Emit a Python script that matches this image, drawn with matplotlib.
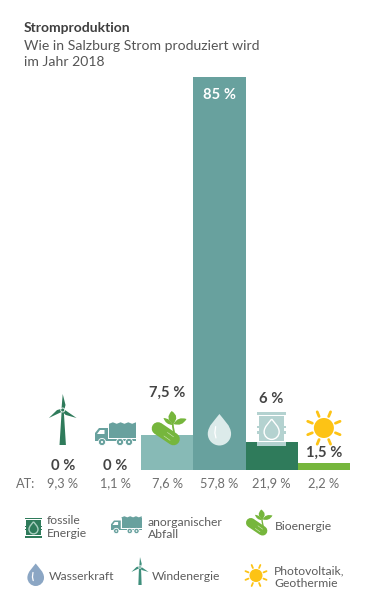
import numpy as np
import matplotlib
matplotlib.use("Agg")
import matplotlib.pyplot as plt
from matplotlib.patches import Polygon, Circle, Rectangle, PathPatch
from matplotlib.path import Path

categories = ["Windenergie", "anorganischer Abfall", "Bioenergie", "Wasserkraft", "fossile Energie", "Photovoltaik, Geothermie"]
shares = [0, 0, 7.5, 85, 6, 1.5]
share_labels = ["0 %", "0 %", "7,5 %", "85 %", "6 %", "1,5 %"]
at_labels = ["9,3 %", "1,1 %", "7,6 %", "57,8 %", "21,9 %", "2,2 %"]
bar_colors = ["#2F7B5B", "#68A19E", "#87BAB6", "#68A19E", "#2F7B5B", "#76B63C"]

GREY = "#6E6E6E"
plt.rcParams["font.family"] = ["Lato", "DejaVu Sans"]

W, H = 368, 600
fig = plt.figure(figsize=(W/100, H/100), dpi=100)

left, right, base, top = 36.6, 350.0, 470.0, 77.0
ax = fig.add_axes([left/W, 1-base/H, (right-left)/W, (base-top)/H])
ax.bar(range(6), shares, width=1.0, color=bar_colors, linewidth=0)
ax.set_xlim(-0.5, 5.5)
ax.set_ylim(0, 85)
ax.axis("off")

ov = fig.add_axes([0, 0, 1, 1], zorder=5)
ov.set_xlim(0, W); ov.set_ylim(H, 0); ov.axis("off")

def T(x, y, s, size=9.6, color=GREY, weight="normal", ha="left", va="center", **k):
    ov.text(x, y, s, fontsize=size, color=color, fontweight=weight, ha=ha, va=va, **k)

def poly(pts, c, **k):
    ov.add_patch(Polygon(pts, closed=True, fc=c, ec="none", **k))

def wind(cx, cy, s, c, tower):
    tw = 3.2*tower/35
    poly([(cx-1.0, cy), (cx+1.0, cy), (cx+tw, cy+tower), (cx-tw, cy+tower)], c)
    for a in (-90, 30, 150):
        r = np.radians(a)
        d = np.array([np.cos(r), np.sin(r)]); n = np.array([-d[1], d[0]])
        o = np.array([cx, cy])
        poly([o+n*1.5*s, o+d*5*s+n*2.8*s, o+d*16*s, o-n*1.3*s], c)
    ov.add_patch(Circle((cx, cy), 2.0*s, fc=c, ec="white", lw=0.6))

def truck(x, y, s, c):
    ov.add_patch(Rectangle((x+14*s, y+2*s), 27*s, 14*s, fc=c, ec="none"))
    xs = np.linspace(x+14*s, x+41*s, 8)
    poly([(x+14*s, y+3*s)] + [(v, y+(0.3 if i % 2 else 1.8)*s) for i, v in enumerate(xs)] + [(x+41*s, y+3*s)], c)
    poly([(x, y+18*s), (x, y+11*s), (x+4*s, y+6*s), (x+13*s, y+6*s), (x+13*s, y+18*s)], c)
    poly([(x+2*s, y+12*s), (x+5*s, y+8*s), (x+9.5*s, y+8*s), (x+9.5*s, y+12*s)], "white")
    ov.add_patch(Rectangle((x, y+17*s), 41*s, 2*s, fc=c, ec="none"))
    for wx in (7, 25, 34):
        ov.add_patch(Circle((x+wx*s, y+20*s), 3.6*s, fc=c, ec="white", lw=0.6))
        ov.add_patch(Circle((x+wx*s, y+20*s), 1.1*s, fc="white", ec="none"))

def drop_path(cx, ytop, ybot):
    r = (ybot-ytop)*0.37
    cy = ybot-r
    k = 0.55*r
    h = ybot-ytop
    verts = [(cx, ytop),
             (cx+0.35*r, ytop+0.18*h), (cx+r, cy-0.7*r), (cx+r, cy),
             (cx+r, cy+k), (cx+k, ybot), (cx, ybot),
             (cx-k, ybot), (cx-r, cy+k), (cx-r, cy),
             (cx-r, cy-0.7*r), (cx-0.35*r, ytop+0.18*h), (cx, ytop)]
    return Path(verts, [Path.MOVETO] + [Path.CURVE4]*12)

def drop(cx, ytop, ybot, c, hl):
    ov.add_patch(PathPatch(drop_path(cx, ytop, ybot), fc=c, ec="none"))
    h = ybot-ytop
    ov.plot([cx-h*0.12, cx-h*0.145, cx-h*0.11], [ytop+h*0.40, ytop+h*0.60, ytop+h*0.76], color=hl, lw=0.9, solid_capstyle="round")

def leaf(x0, y0, x1, y1, w, c):
    a = np.array([x0, y0]); b = np.array([x1, y1])
    d = b-a; n = np.array([-d[1], d[0]])/np.hypot(*d)
    m = (a+b)/2
    p = Path([a, m+n*w*2, b, m-n*w*2, a], [Path.MOVETO, Path.CURVE3, Path.CURVE3, Path.CURVE3, Path.CURVE3])
    ov.add_patch(PathPatch(p, fc=c, ec="none"))

def bio(x, y, s, c):
    ov.plot([x+5*s, x+20.5*s], [y+17.5*s, y+28*s], color=c, lw=12.6*s*0.72, solid_capstyle="round")
    for r in (5.6, 3.7, 1.8):
        ov.add_patch(Circle((x+5*s, y+17.5*s), r*s, fc=c, ec="#D6E9C2", lw=0.5))
    for d in (0, 3.5):
        ov.plot([x+(11+d)*s, x+(17+d)*s], [y+(25-d)*s, y+(29.3-d)*s], color="#D6E9C2", lw=0.4)
    ov.plot([x+21*s, x+20*s, x+19.5*s], [y+21*s, y+16*s, y+10*s], color=c, lw=1.3*s)
    leaf(x+20*s, y+13*s, x+18.7*s, y, 4.0*s, c)
    leaf(x+20.5*s, y+13*s, x+33.5*s, y+8*s, 2.9*s, c)
    leaf(x+19.5*s, y+14*s, x+10.5*s, y+7*s, 2.0*s, c)

def barrel(cx, ytop, ybot, body, hl):
    h = ybot-ytop; hw = h*0.38; s = h/33
    ov.add_patch(Rectangle((cx-hw, ytop+4*s), 2*hw, h-8*s, fc=body, ec="none"))
    for yy in (ytop, ybot-3*s):
        ov.add_patch(Rectangle((cx-hw-2*s, yy), 2*hw+4*s, 3*s, fc=body, ec="none"))
    for yy in (ytop+13.5*s, ytop+19*s):
        ov.add_patch(Rectangle((cx-hw-2*s, yy), 2*hw+4*s, 2.2*s, fc=body, ec="none"))
    ov.add_patch(PathPatch(drop_path(cx, ytop+7*s, ytop+27*s), fc=body, ec=hl, lw=1.0))

def sun(cx, cy, s, c):
    ov.add_patch(Circle((cx, cy), 10*s, fc=c, ec="none"))
    for a in np.arange(22.5, 360, 45):
        r = np.radians(a)
        ov.plot([cx+12.5*s*np.cos(r), cx+17.5*s*np.cos(r)], [cy+12.5*s*np.sin(r), cy+17.5*s*np.sin(r)],
                color=c, lw=2.0*s, solid_capstyle="round")

T(24, 27.5, "Stromproduktion", size=10, color="#3F3F3F", weight="bold")
T(24, 46.5, "Wie in Salzburg Strom produziert wird", size=10.05, color="#555555")
T(24, 62, "im Jahr 2018", size=10.05, color="#555555")

label_ys = [466, 466, 393, 95, 399, 453]
centers = [left + (i+0.5)*(right-left)/6 for i in range(6)]
for i, (cx, yy, s) in enumerate(zip(centers, label_ys, share_labels)):
    T(cx, yy, s, size=10.6, weight="bold", color="white" if i == 3 else "#444444", ha="center")

T(16, 483.5, "AT:", size=9.2)
for cx, s in zip(centers, at_labels):
    T(cx, 483.5, s, size=9.2, ha="center")

wind(centers[0], 410, 1.0, "#2F7B5B", 35)
truck(95, 422, 1.0, "#68A19E")
bio(153, 411, 1.0, "#76B63C")
drop(centers[3], 414, 445.5, "#DCEBEA", "white")
barrel(centers[4], 412, 445.5, "#B4D2D0", "white")
sun(centers[5], 428, 1.0, "#FDC315")

c2 = "#5C5C5C"
barrel(33.5, 517.5, 537.5, "#2F7B5B", "#A9CFC0")
T(47, 521, "fossile", size=8.7, color=c2); T(47, 533.5, "Energie", size=8.7, color=c2)
truck(111, 516, 0.75, "#68A19E")
T(148, 522, "anorganischer", size=8.7, color=c2); T(148, 534.5, "Abfall", size=8.7, color=c2)
bio(247, 509.5, 0.76, "#76B63C")
T(274.5, 527, "Bioenergie", size=8.7, color=c2)
drop(35.7, 563.5, 586, "#8BA6C4", "white")
T(49, 576, "Wasserkraft", size=8.7, color=c2)
wind(140, 567, 0.62, "#3F8F7C", 18)
T(152, 576.5, "Windenergie", size=8.7, color=c2)
sun(256, 575.5, 0.65, "#FDC315")
T(274, 570.5, "Photovoltaik,", size=8.7, color=c2); T(274, 583.5, "Geothermie", size=8.7, color=c2)

fig.savefig("out.png", dpi=100)
